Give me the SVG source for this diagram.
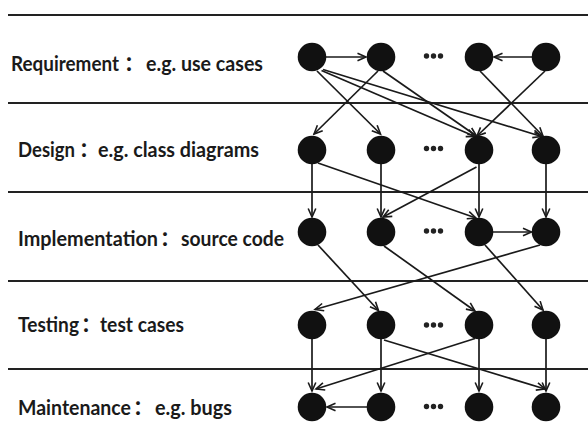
<svg xmlns="http://www.w3.org/2000/svg" width="588" height="444" viewBox="0 0 588 444">
<style>
.sep{stroke:#222;stroke-width:2;fill:none}
.lbl{font-family:"Lato","Noto Sans CJK SC",sans-serif;font-weight:bold;font-size:20px;fill:#1a1a1a}
.node{fill:#111}
.dot{fill:#222}
.edge{stroke:#1a1a1a;stroke-width:1.7;fill:none;marker-end:url(#arr)}
</style>
<defs>
<marker id="arr" markerUnits="userSpaceOnUse" viewBox="-10 -5 12 10" markerWidth="12" markerHeight="10" refX="0" refY="0" orient="auto">
<path d="M-8.5,-3.8 L0,0 L-8.5,3.8" fill="none" stroke="#1a1a1a" stroke-width="1.6"/>
</marker>
</defs>
<g id="separators">
<line class="sep" x1="8" y1="15" x2="588" y2="15"/>
<line class="sep" x1="8" y1="103" x2="588" y2="103"/>
<line class="sep" x1="8" y1="192" x2="588" y2="192"/>
<line class="sep" x1="8" y1="281" x2="588" y2="281"/>
<line class="sep" x1="8" y1="369" x2="588" y2="369"/>
</g>
<g id="labels">
<text class="lbl" x="11" y="70.5"><tspan textLength="108" lengthAdjust="spacingAndGlyphs">Requirement</tspan><tspan x="124">：</tspan><tspan x="146" textLength="117" lengthAdjust="spacingAndGlyphs">e.g. use cases</tspan></text>
<text class="lbl" x="18" y="157"><tspan textLength="57" lengthAdjust="spacingAndGlyphs">Design</tspan><tspan x="79">：</tspan><tspan x="98" textLength="161" lengthAdjust="spacingAndGlyphs">e.g. class diagrams</tspan></text>
<text class="lbl" x="18" y="246"><tspan textLength="140" lengthAdjust="spacingAndGlyphs">Implementation</tspan><tspan x="160">：</tspan><tspan x="181" textLength="103" lengthAdjust="spacingAndGlyphs">source code</tspan></text>
<text class="lbl" x="18" y="332"><tspan textLength="61" lengthAdjust="spacingAndGlyphs">Testing</tspan><tspan x="81">：</tspan><tspan x="100" textLength="84" lengthAdjust="spacingAndGlyphs">test cases</tspan></text>
<text class="lbl" x="18" y="415"><tspan textLength="113" lengthAdjust="spacingAndGlyphs">Maintenance</tspan><tspan x="133">：</tspan><tspan x="155" textLength="77" lengthAdjust="spacingAndGlyphs">e.g. bugs</tspan></text>
</g>
<g id="connectors">
<path class="edge" d="M326,57 L366,57"/>
<path class="edge" d="M532,57 L494,57"/>
<path class="edge" d="M317,71 L380.5,134"/>
<path class="edge" d="M321.5,70.5 L475,136.5"/>
<path class="edge" d="M323,69.5 L541.5,136.5"/>
<path class="edge" d="M378,71 L314,134"/>
<path class="edge" d="M383,71 L476.5,136"/>
<path class="edge" d="M480,71 L543,136"/>
<path class="edge" d="M545,71 L477,136"/>
<path class="edge" d="M312,164 L312,217"/>
<path class="edge" d="M381,164 L381,217"/>
<path class="edge" d="M479,164 L479,217"/>
<path class="edge" d="M546,164 L546,217"/>
<path class="edge" d="M318,163 L476,218"/>
<path class="edge" d="M476.5,167 L383,217"/>
<path class="edge" d="M493,232 L531.5,232"/>
<path class="edge" d="M318,245 L378.5,310.5"/>
<path class="edge" d="M384,246 L475,311"/>
<path class="edge" d="M485,245 L543,310"/>
<path class="edge" d="M540,245 L315,309.5"/>
<path class="edge" d="M312,339 L312,391"/>
<path class="edge" d="M381,339 L381,391"/>
<path class="edge" d="M479,339 L479,391"/>
<path class="edge" d="M546,339 L546,391"/>
<path class="edge" d="M475,338.5 L316,389"/>
<path class="edge" d="M384,340 L545,389"/>
<path class="edge" d="M367,407 L327,407"/>
</g>
<g id="req"><circle id="R1" class="node" cx="312" cy="57" r="14.3"/><circle id="R2" class="node" cx="381" cy="57" r="14.3"/><circle id="R3" class="node" cx="479" cy="57" r="14.3"/><circle id="R4" class="node" cx="546" cy="57" r="14.3"/><g class="dot"><circle cx="426.5" cy="56" r="2.7"/><circle cx="433.5" cy="56" r="2.7"/><circle cx="440.5" cy="56" r="2.7"/></g></g>
<g id="des"><circle id="D1" class="node" cx="312" cy="150" r="14.3"/><circle id="D2" class="node" cx="381" cy="150" r="14.3"/><circle id="D3" class="node" cx="479" cy="150" r="14.3"/><circle id="D4" class="node" cx="546" cy="150" r="14.3"/><g class="dot"><circle cx="426.5" cy="148.5" r="2.7"/><circle cx="433.5" cy="148.5" r="2.7"/><circle cx="440.5" cy="148.5" r="2.7"/></g></g>
<g id="imp"><circle id="I1" class="node" cx="312" cy="232" r="14.3"/><circle id="I2" class="node" cx="381" cy="232" r="14.3"/><circle id="I3" class="node" cx="479" cy="232" r="14.3"/><circle id="I4" class="node" cx="546" cy="232" r="14.3"/><g class="dot"><circle cx="426.5" cy="231" r="2.7"/><circle cx="433.5" cy="231" r="2.7"/><circle cx="440.5" cy="231" r="2.7"/></g></g>
<g id="tst"><circle id="T1" class="node" cx="312" cy="325" r="14.3"/><circle id="T2" class="node" cx="381" cy="325" r="14.3"/><circle id="T3" class="node" cx="479" cy="325" r="14.3"/><circle id="T4" class="node" cx="546" cy="325" r="14.3"/><g class="dot"><circle cx="426.5" cy="325" r="2.7"/><circle cx="433.5" cy="325" r="2.7"/><circle cx="440.5" cy="325" r="2.7"/></g></g>
<g id="mnt"><circle id="M1" class="node" cx="312" cy="407" r="14.3"/><circle id="M2" class="node" cx="381" cy="407" r="14.3"/><circle id="M3" class="node" cx="479" cy="407" r="14.3"/><circle id="M4" class="node" cx="546" cy="407" r="14.3"/><g class="dot"><circle cx="426.5" cy="406.5" r="2.7"/><circle cx="433.5" cy="406.5" r="2.7"/><circle cx="440.5" cy="406.5" r="2.7"/></g></g>
</svg>
